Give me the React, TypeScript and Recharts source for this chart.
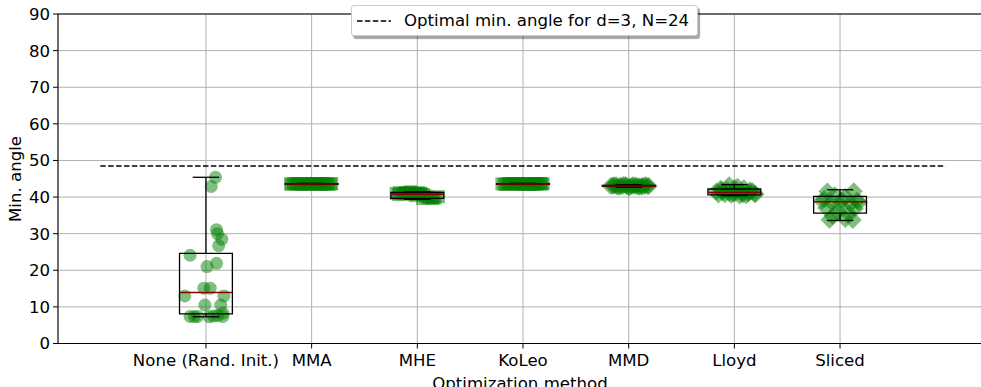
import React from "react";
import {
  ComposedChart,
  Scatter,
  XAxis,
  YAxis,
  CartesianGrid,
  ReferenceLine,
  ReferenceArea,
  Legend,
} from "recharts";

const categories = ["None (Rand. Init.)", "MMA", "MHE", "KoLeo", "MMD", "Lloyd", "Sliced"];
const yTicks = [0, 10, 20, 30, 40, 50, 60, 70, 80, 90];
const optimalAngle = 48.5;

const noneJitter = [0.09, 0.05, 0.1, 0.11, 0.15, 0.12, -0.15, 0.1, 0.01, -0.02, 0.04, -0.2, 0.17, -0.01, 0.14, 0.16, -0.15, -0.11, -0.08, 0.07, 0.11, 0.16, 0.03];
const noneY = [45.4, 42.9, 31.1, 30.0, 28.5, 26.7, 24.1, 21.9, 21.0, 15.1, 15.1, 13.0, 13.0, 10.5, 10.5, 8.3, 7.4, 7.3, 7.4, 7.5, 7.6, 7.4, 7.3];

const mmaJitter = [-0.19, -0.15, -0.12, -0.08, -0.05, -0.02, 0.02, 0.05, 0.09, 0.12, 0.16, 0.19, -0.17, -0.1, -0.03, 0.04, 0.11, 0.18, -0.13, 0.0, 0.07, 0.14, -0.06, 0.08, -0.2];
const mmaY = [43.5, 43.6, 43.7, 43.55, 43.65, 43.5, 43.6, 43.7, 43.55, 43.6, 43.5, 43.65, 43.7, 43.45, 43.6, 43.5, 43.65, 43.55, 43.6, 43.7, 43.5, 43.6, 43.55, 43.65, 43.6];

const mheJitter = [-0.2, -0.17, -0.14, -0.11, -0.08, -0.05, -0.02, 0.01, 0.04, -0.18, -0.12, -0.06, 0.0, 0.03, 0.06, -0.09, 0.08, 0.11, 0.14, 0.17, 0.2, 0.05, 0.1, 0.15, -0.02];
const mheY = [41.0, 41.2, 40.9, 41.1, 41.3, 40.8, 41.0, 41.2, 40.9, 40.7, 41.1, 41.4, 40.8, 41.0, 40.7, 40.9, 40.3, 39.9, 39.7, 39.8, 40.1, 39.6, 39.9, 39.7, 40.4];

const koleoJitter = [-0.2, -0.16, -0.13, -0.09, -0.06, -0.03, 0.01, 0.04, 0.08, 0.11, 0.15, 0.19, -0.18, -0.11, -0.01, 0.06, 0.13, 0.17, -0.14, 0.02, 0.09, -0.07, 0.12, -0.04, 0.18];
const koleoY = [43.6, 43.5, 43.7, 43.6, 43.55, 43.65, 43.5, 43.7, 43.6, 43.55, 43.65, 43.6, 43.5, 43.7, 43.6, 43.45, 43.55, 43.7, 43.65, 43.6, 43.5, 43.6, 43.7, 43.55, 43.6];

const mmdJitter = [-0.17, -0.14, -0.11, -0.08, -0.05, -0.02, 0.01, 0.04, 0.07, 0.1, 0.13, 0.16, 0.19, -0.15, -0.09, -0.03, 0.03, 0.09, 0.15, -0.12, -0.06, 0.0, 0.06, 0.12, 0.18];
const mmdY = [43.0, 43.2, 42.9, 43.1, 43.3, 43.0, 42.8, 43.2, 43.1, 42.9, 43.0, 43.2, 43.0, 43.1, 42.8, 43.3, 43.0, 42.9, 43.1, 43.2, 43.0, 42.7, 43.1, 42.9, 43.0];

const lloydJitter = [-0.17, -0.13, -0.09, -0.05, -0.01, 0.03, 0.07, 0.11, 0.15, 0.19, -0.15, -0.11, -0.07, -0.03, 0.01, 0.05, 0.09, 0.13, 0.17, 0.2, -0.12, 0.0, 0.08, -0.05, 0.14];
const lloydY = [41.5, 42.3, 40.8, 43.2, 41.0, 42.8, 41.2, 40.5, 41.8, 40.9, 40.7, 41.3, 42.0, 40.6, 41.1, 40.4, 42.4, 41.0, 41.6, 40.8, 41.9, 42.5, 40.7, 41.2, 41.4];

const slicedJitter = [-0.12, 0.13, -0.05, 0.05, -0.15, 0.16, -0.08, 0.1, 0.0, -0.13, 0.14, -0.02, 0.08, -0.07, 0.05, 0.12, -0.1, 0.18, -0.17, 0.02];
const slicedY = [41.5, 41.6, 40.5, 40.0, 39.5, 39.0, 38.5, 38.2, 37.8, 37.0, 36.8, 36.0, 35.5, 34.8, 34.0, 33.7, 33.8, 38.6, 38.9, 39.2];

const whiskerLow = [7.3, 43.45, 39.4, 43.45, 42.7, 40.4, 33.6];
const q1 = [8.1, 43.5, 39.65, 43.5, 42.95, 40.6, 35.6];
const median = [13.9, 43.6, 40.8, 43.6, 43.05, 41.25, 38.7];
const q3 = [24.6, 43.65, 41.25, 43.65, 43.2, 42.2, 40.2];
const whiskerHigh = [45.4, 43.75, 41.45, 43.75, 43.4, 43.4, 42.0];

const build = (idx: number, jitter: number[], ys: number[]) =>
  ys.map((y, k) => ({ x: idx + jitter[k], y }));

const FILL = "#008000";
const OP = 0.5;

const circleShape = (p: any) => (
  <circle cx={p.cx} cy={p.cy} r={6.5} fill={FILL} fillOpacity={OP} />
);
const squareShape = (p: any) => (
  <rect x={p.cx - 6.5} y={p.cy - 6.5} width={13} height={13} fill={FILL} fillOpacity={OP} />
);
const diamondShape = (p: any) => {
  const r = 9;
  return (
    <polygon
      points={`${p.cx},${p.cy - r} ${p.cx + r},${p.cy} ${p.cx},${p.cy + r} ${p.cx - r},${p.cy}`}
      fill={FILL}
      fillOpacity={OP}
    />
  );
};

const series = [
  { data: build(0, noneJitter, noneY), shape: circleShape },
  { data: build(1, mmaJitter, mmaY), shape: squareShape },
  { data: build(2, mheJitter, mheY), shape: squareShape },
  { data: build(3, koleoJitter, koleoY), shape: squareShape },
  { data: build(4, mmdJitter, mmdY), shape: diamondShape },
  { data: build(5, lloydJitter, lloydY), shape: diamondShape },
  { data: build(6, slicedJitter, slicedY), shape: diamondShape },
];

const FONT = "'DejaVu Sans', sans-serif";
const TICK_FS = 16.6;
const LEG_FS = 16.6;
const BOX_HALF = 0.25;
const CAP_HALF = 0.125;
const Z = 1500;

const LegendBox = () => (
  <div
    style={{
      boxSizing: "border-box",
      width: 347,
      height: 31,
      border: "1px solid #cccccc",
      borderRadius: 3,
      background: "#fff",
      boxShadow: "2px 3px 1px rgba(0,0,0,0.35)",
      display: "flex",
      alignItems: "center",
      fontFamily: FONT,
      fontSize: LEG_FS,
      color: "#000",
      whiteSpace: "nowrap",
      overflow: "visible",
    }}
  >
    <svg width={34} height={4} style={{ marginLeft: 5, flex: "none" }}>
      <line x1={0} y1={2} x2={34} y2={2} stroke="#000" strokeWidth={1.5} strokeDasharray="5.5 2.4" />
    </svg>
    <span style={{ marginLeft: 13 }}>Optimal min. angle for d=3, N=24</span>
  </div>
);

export default function App() {
  return (
    <div style={{ position: "absolute", left: 0, top: 0, width: 981, height: 387, overflow: "hidden", background: "#fff" }}>
      <ComposedChart width={990} height={387} margin={{ top: 14, right: 2, left: 0, bottom: 0 }}>
        <CartesianGrid stroke="#b0b0b0" strokeWidth={1} />
        <XAxis
          type="number"
          dataKey="x"
          domain={[-1.4, 7.4]}
          ticks={[0, 1, 2, 3, 4, 5, 6]}
          tickFormatter={(v: number) => categories[v]}
          interval={0}
          allowDataOverflow
          height={43.5}
          axisLine={{ stroke: "#000", strokeWidth: 1 }}
          tickLine={{ stroke: "#000" }}
          tickSize={5}
          tickMargin={6}
          tick={{ fill: "#000", fontSize: TICK_FS, fontFamily: FONT }}
          label={{
            content: (props: any) => {
              const vb = props.viewBox || { x: 58, width: 930 };
              return (
                <text x={vb.x + vb.width / 2 - 3} y={389} textAnchor="middle" fill="#000" fontSize={TICK_FS} fontFamily={FONT}>
                  Optimization method
                </text>
              );
            },
          }}
        />
        <YAxis
          type="number"
          dataKey="y"
          domain={[0, 90]}
          ticks={yTicks}
          interval={0}
          width={58}
          axisLine={{ stroke: "#000", strokeWidth: 1 }}
          tickLine={{ stroke: "#000" }}
          tickSize={5}
          tickMargin={3}
          tick={{ fill: "#000", fontSize: TICK_FS, fontFamily: FONT }}
          label={{
            content: () => (
              <text
                x={21}
                y={179}
                transform="rotate(-90 21 179)"
                textAnchor="middle"
                fill="#000"
                fontSize={TICK_FS}
                fontFamily={FONT}
              >
                Min. angle
              </text>
            ),
          }}
        />
        {series.map((s, i) => (
          <Scatter key={`s${i}`} data={s.data} shape={s.shape} isAnimationActive={false} />
        ))}
        {categories.map((_, i) => (
          <ReferenceArea
            key={`box${i}`}
            x1={i - BOX_HALF}
            x2={i + BOX_HALF}
            y1={q1[i]}
            y2={q3[i]}
            fill="none"
            fillOpacity={0}
            stroke="#000"
            strokeWidth={1.3}
            strokeOpacity={1}
            zIndex={Z}
          />
        ))}
        {categories.map((_, i) => (
          <ReferenceLine key={`wl${i}`} segment={[{ x: i, y: whiskerLow[i] }, { x: i, y: q1[i] }]} stroke="#000" strokeWidth={1.3} zIndex={Z} />
        ))}
        {categories.map((_, i) => (
          <ReferenceLine key={`wh${i}`} segment={[{ x: i, y: q3[i] }, { x: i, y: whiskerHigh[i] }]} stroke="#000" strokeWidth={1.3} zIndex={Z} />
        ))}
        {categories.map((_, i) => (
          <ReferenceLine key={`cl${i}`} segment={[{ x: i - CAP_HALF, y: whiskerLow[i] }, { x: i + CAP_HALF, y: whiskerLow[i] }]} stroke="#000" strokeWidth={1.3} zIndex={Z} />
        ))}
        {categories.map((_, i) => (
          <ReferenceLine key={`ch${i}`} segment={[{ x: i - CAP_HALF, y: whiskerHigh[i] }, { x: i + CAP_HALF, y: whiskerHigh[i] }]} stroke="#000" strokeWidth={1.3} zIndex={Z} />
        ))}
        {categories.map((_, i) => (
          <ReferenceLine key={`md${i}`} segment={[{ x: i - BOX_HALF, y: median[i] }, { x: i + BOX_HALF, y: median[i] }]} stroke="#8b0000" strokeWidth={1.5} zIndex={Z + 1} />
        ))}
        <ReferenceLine
          segment={[{ x: -1, y: optimalAngle }, { x: 7, y: optimalAngle }]}
          stroke="#000"
          strokeWidth={1.5}
          strokeDasharray="5.5 2.4"
          zIndex={Z}
        />
        <ReferenceLine y={90} stroke="#000" strokeWidth={1} zIndex={Z} />
        <Legend
          layout="horizontal"
          verticalAlign="middle"
          align="center"
          wrapperStyle={{ position: "absolute", left: 351, top: 5, width: 347, height: 31 }}
          content={() => <LegendBox />}
        />
      </ComposedChart>
    </div>
  );
}
